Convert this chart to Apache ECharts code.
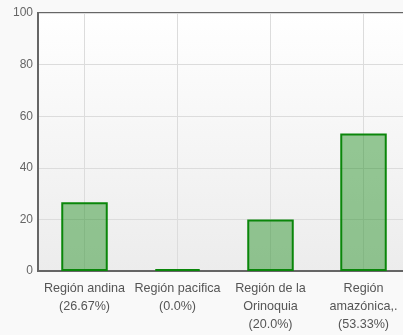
<!DOCTYPE html>
<html><head><meta charset="utf-8">
<script src="https://cdn.jsdelivr.net/npm/echarts@6/dist/echarts.min.js"></script>
<style>html,body{margin:0;padding:0;background:#f9f9f9;}#c{width:403px;height:335px;}</style>
</head><body><div id="c"></div>
<script>
const categories = ['Región andina\n(26.67%)', 'Región pacifica\n(0.0%)', 'Región de la\nOrinoquia\n(20.0%)', 'Región\namazónica,.\n(53.33%)'];
const values = [26.67, 0.0, 20.0, 53.33];
const yTicks = [0, 20, 40, 60, 80, 100];

const chart = echarts.init(document.getElementById('c'), null, {renderer: 'canvas'});
chart.setOption({
  backgroundColor: '#f9f9f9',
  animation: false,
  grid: {
    left: 38, top: 13, right: -7, bottom: 64,
    outerBoundsMode: 'none',
    containLabel: false,
    show: true,
    borderColor: '#666', borderWidth: 2,
    backgroundColor: {type: 'linear', x: 0, y: 0, x2: 0, y2: 1,
      colorStops: [{offset: 0, color: '#ffffff'}, {offset: 1, color: '#ececec'}]}
  },
  xAxis: {
    type: 'category', data: categories,
    axisLine: {show: true, lineStyle: {color: '#666', width: 2}},
    axisTick: {show: false, alignWithLabel: true},
    splitLine: {show: true, alignWithLabel: true, lineStyle: {color: '#dcdcdc', width: 1}},
    axisLabel: {color: '#555', fontSize: 12.6, lineHeight: 18, margin: 9, fontFamily: 'Liberation Sans, Arial, sans-serif', interval: 0}
  },
  yAxis: {
    type: 'value', min: yTicks[0], max: yTicks[yTicks.length - 1], interval: 20,
    axisLine: {show: true, lineStyle: {color: '#666', width: 2}},
    axisTick: {show: false},
    splitLine: {show: true, lineStyle: {color: '#dcdcdc', width: 1}},
    axisLabel: {color: '#666', fontSize: 12, margin: 5, fontFamily: 'Liberation Sans, Arial, sans-serif'}
  },
  series: [{
    type: 'bar', data: values, barWidth: '50%', barMinHeight: 2,
    itemStyle: {color: 'rgba(0,128,0,0.4)', borderColor: '#0a860a', borderWidth: 2}
  }]
});
</script></body></html>
